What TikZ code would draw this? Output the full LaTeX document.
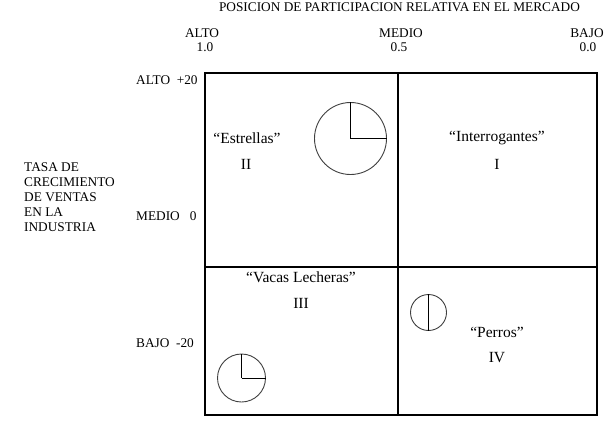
\documentclass[tikz,border=0pt]{standalone}
\usepackage{fontspec}
\setmainfont{Liberation Serif}
\begin{document}
\begin{tikzpicture}[x=1pt,y=-1pt,
  lbl/.style={inner sep=0pt,font=\fontsize{13.3}{15}\selectfont},
  qlbl/.style={inner sep=0pt,font=\fontsize{15.5}{18}\selectfont},
  grid/.style={line width=1.1pt,black},
  pie/.style={circle,draw=black!75,line width=0.9pt,inner sep=0pt},
  pieline/.style={line width=1pt,black}]
\useasboundingbox[fill=white] (0,0) rectangle (608,424);
% grid
\coordinate (tl) at (205,73);
\coordinate (br) at (597,415);
\coordinate (mt) at (398,73);
\coordinate (mb) at (398,415);
\coordinate (ml) at (205,267);
\coordinate (mr) at (597,267);
\draw[grid] (tl) rectangle (br);
\draw[grid] (mt) -- (mb);
\draw[grid] (ml) -- (mr);
% top labels
\node[lbl] (title) at (399.5,7) {POSICION DE PARTICIPACION RELATIVA EN EL MERCADO};
\node[lbl] (xa) at (202,33) {ALTO};
\node[lbl] (xa1) at (205,47) {1.0};
\node[lbl] (xm) at (401,33) {MEDIO};
\node[lbl] (xm1) at (399,47) {0.5};
\node[lbl] (xb) at (587,33) {BAJO};
\node[lbl] (xb1) at (588,47) {0.0};
% left labels
\node[lbl,anchor=west] (ya) at (136,80) {ALTO\ \ +20};
\node[lbl,anchor=west] (ym) at (136,216) {MEDIO\ \ \ 0};
\node[lbl,anchor=west] (yb) at (136,343) {BAJO\ \ -20};
\node[lbl,anchor=west,align=left] (ytitle) at (24,197)
  {TASA DE\\CRECIMIENTO\\DE VENTAS\\EN LA\\INDUSTRIA};
% quadrant labels
\node[qlbl] (q2) at (247,138) {“Estrellas”};
\node[qlbl] (q2n) at (246,164) {II};
\node[qlbl] (q1) at (497,138) {“Interrogantes”};
\node[qlbl] (q1n) at (497,164) {I};
\node[qlbl] (q3) at (301,277) {“Vacas Lecheras”};
\node[qlbl] (q3n) at (301,303) {III};
\node[qlbl] (q4) at (497,332) {“Perros”};
\node[qlbl] (q4n) at (497,358) {IV};
% pies
\node[pie,minimum size=72pt] (p1) at (350.5,138.5) {};
\draw[pieline] (p1.center) -- (p1.north);
\draw[pieline] (p1.center) -- (p1.east);
\node[pie,minimum size=48pt] (p2) at (241.5,378) {};
\draw[pieline] (p2.center) -- (p2.north);
\draw[pieline] (p2.center) -- (p2.east);
\node[pie,minimum size=36pt] (p3) at (428.5,312.5) {};
\draw[pieline] (p3.north) -- (p3.south);
\end{tikzpicture}
\end{document}
